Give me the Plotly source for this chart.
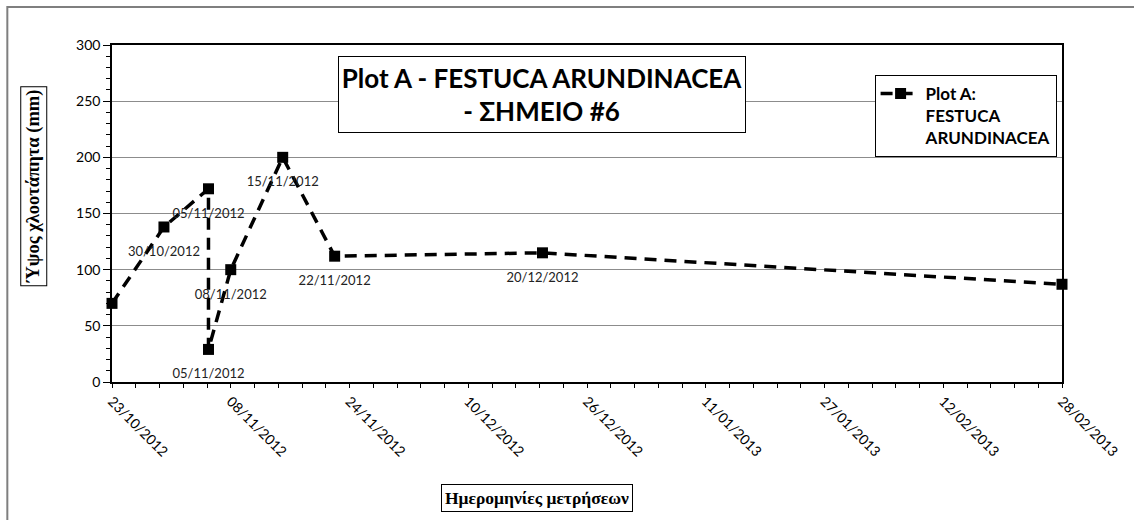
import plotly.graph_objects as go

# Measurement dates and turf height (mm)
dates = ["2012-10-23", "2012-10-30", "2012-11-05", "2012-11-05", "2012-11-08",
         "2012-11-15", "2012-11-22", "2012-12-20", "2013-02-28"]
heights = [70, 138, 172, 29, 100, 200, 112, 115, 87]
point_labels = ["", "30/10/2012", "05/11/2012", "05/11/2012", "08/11/2012",
                "15/11/2012", "22/11/2012", "20/12/2012", ""]

series_name = "Plot A:<br>FESTUCA<br>ARUNDINACEA"
chart_title = "Plot A - FESTUCA ARUNDINACEA<br>- ΣΗΜΕΙΟ #6"
y_title = "Ύψος χλοοτάπητα (mm)"
x_title = "Ημερομηνίες μετρήσεων"

x_start, x_end = "2012-10-23", "2013-02-28"
DAY_MS = 86400000

W, H = 1134, 520
L, R, T, B = 112, 69, 45, 138
pw, ph = W - L - R, H - T - B


def px_x(px):
    return (px - L) / pw


def px_y(py):
    return (H - B - py) / ph


fig = go.Figure()

fig.add_trace(go.Scatter(
    x=dates, y=heights, name=series_name,
    mode="lines+markers",
    line=dict(color="black", width=3.5, dash="12px,8px"),
    marker=dict(symbol="square", size=11, color="black"),
    cliponaxis=False,
))

# Date labels under each point
fig.add_trace(go.Scatter(
    x=dates, y=heights, mode="markers+text", text=point_labels,
    textposition="bottom center",
    textfont=dict(family="Lato", size=13, color="#222222"),
    marker=dict(size=29, color="rgba(0,0,0,0)"),
    showlegend=False, hoverinfo="skip", cliponaxis=False,
))

fig.update_layout(
    width=W, height=H,
    margin=dict(l=L, r=R, t=T, b=B),
    paper_bgcolor="white", plot_bgcolor="white",
    font=dict(family="Lato", size=13, color="black"),
    showlegend=True,
    legend=dict(
        x=px_x(877), y=px_y(75), xanchor="left", yanchor="top",
        bordercolor="black", borderwidth=1, bgcolor="white",
        font=dict(family="Lato", size=17, color="black", weight="bold"),
        valign="top", itemwidth=40,
    ),
)

fig.update_xaxes(
    type="date", range=[x_start, x_end],
    tick0=x_start, dtick=16 * DAY_MS, tickformat="%d/%m/%Y",
    tickangle=45, ticks="outside", ticklen=4, tickcolor="black",
    showline=True, linecolor="black", linewidth=1.5, mirror=True,
    showgrid=False, zeroline=False,
    tickfont=dict(family="Lato", size=14, color="black"),
    minor=dict(ticks="outside", ticklen=4, tickcolor="black",
               tick0=x_start, dtick=3.2 * DAY_MS, showgrid=False),
)

fig.update_yaxes(
    range=[0, 300], dtick=50, ticks="outside", ticklen=7, tickcolor="black",
    showline=True, linecolor="black", linewidth=1.5, mirror=True,
    showgrid=True, gridcolor="#8c8c8c", gridwidth=1, zeroline=False,
    tickfont=dict(family="Lato", size=14, color="black"),
    minor=dict(ticks="outside", ticklen=4, tickcolor="black", dtick=10,
               showgrid=False),
)

# Outer chart frame
fig.add_shape(type="rect", xref="paper", yref="paper",
              x0=px_x(7), x1=px_x(1145), y0=px_y(530), y1=px_y(7),
              line=dict(color="#7f7f7f", width=2), fillcolor="rgba(0,0,0,0)",
              layer="below")

# Boxed chart title
fig.add_annotation(
    text=chart_title, xref="paper", yref="paper",
    x=px_x(543), y=px_y(94.5), xanchor="center", yanchor="middle",
    showarrow=False, width=404, height=73, borderpad=1,
    bordercolor="black", borderwidth=1, bgcolor="white",
    font=dict(family="Lato", size=26, color="black", weight="bold"),
)

# Boxed axis titles
fig.add_annotation(
    text=y_title, xref="paper", yref="paper",
    x=px_x(33), y=px_y(186), xanchor="center", yanchor="middle",
    textangle=-90, showarrow=False, borderpad=2,
    bordercolor="black", borderwidth=1, bgcolor="white",
    font=dict(family="Liberation Serif", size=18.5, color="black", weight="bold"),
)
fig.add_annotation(
    text=x_title, xref="paper", yref="paper",
    x=px_x(538.5), y=px_y(498), xanchor="center", yanchor="middle",
    showarrow=False, borderpad=3,
    bordercolor="black", borderwidth=1, bgcolor="white",
    font=dict(family="Liberation Serif", size=17.5, color="black", weight="bold"),
)

fig.write_html("out.html")
